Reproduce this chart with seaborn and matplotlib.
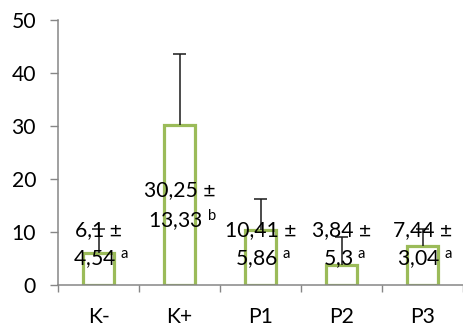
import matplotlib
matplotlib.use("Agg")
import matplotlib.pyplot as plt
import seaborn as sns
import pandas as pd
import numpy as np

categories = ["K-", "K+", "P1", "P2", "P3"]
means = [6.1, 30.25, 10.41, 3.84, 7.44]
sds = [4.54, 13.33, 5.86, 5.3, 3.04]
mean_labels = ["6,1", "30,25", "10,41", "3,84", "7,44"]
sd_labels = ["4,54", "13,33", "5,86", "5,3", "3,04"]
letters = ["a", "b", "a", "a", "a"]
yticks = [0, 10, 20, 30, 40, 50]

# label block centre heights (data units)
label_y = [7.6, 15.1, 7.6, 7.6, 7.6]

sns.set_theme(style="white")
plt.rcParams["font.family"] = ["Lato", "DejaVu Sans"]
plt.rcParams["mathtext.fontset"] = "custom"
plt.rcParams["mathtext.rm"] = "Lato"
plt.rcParams["mathtext.it"] = "Lato:italic"

FS = 15.2
GREEN = "#9BBB59"
GRAY = "#868686"

fig = plt.figure(figsize=(4.63, 3.26), dpi=100)
ax = fig.add_axes([58 / 463, 41 / 326, 405 / 463, 265 / 326])

df = pd.DataFrame({"cat": categories, "val": means})
sns.barplot(data=df, x="cat", y="val", order=categories, ax=ax, width=0.385,
            color="white", edgecolor=GREEN, linewidth=2.3, errorbar=None,
            saturation=1)
for p in ax.patches:
    p.set_facecolor("white")
    p.set_edgecolor(GREEN)
    p.set_linewidth(2.3)
    p.set_joinstyle("miter")

xs = np.arange(len(categories))
tops = np.array(means) + np.array(sds)
ax.vlines(xs, means, tops, colors="#1a1a1a", linewidth=1.1, zorder=3)
ax.hlines(tops, xs - 0.075, xs + 0.075, colors="#1a1a1a", linewidth=1.1, zorder=3)

for i in range(len(categories)):
    ax.annotate(f"{mean_labels[i]} \u00b1", (xs[i], label_y[i]), xytext=(0, 10.8),
                textcoords="offset points", ha="center", va="center",
                fontsize=FS, color="black", zorder=5)
    ax.annotate(f"{sd_labels[i]} $^{{\\mathrm{{{letters[i]}}}}}$", (xs[i], label_y[i]),
                xytext=(2, -10.8), textcoords="offset points", ha="center",
                va="center", fontsize=FS, color="black", zorder=5)

ax.set_xlim(-0.5, 4.5)
ax.set_ylim(0, 50)
ax.set_yticks(yticks)
ax.set_yticklabels([str(t) for t in yticks])
ax.set_xticks(xs)
ax.set_xticklabels(categories)
ax.set_xticks(np.arange(-0.5, 5, 1), minor=True)
ax.set_xlabel("")
ax.set_ylabel("")

ax.tick_params(axis="y", which="major", length=5.8, width=1, color=GRAY,
               labelsize=FS, pad=10, left=True, labelcolor="black")
ax.tick_params(axis="x", which="major", length=0, labelsize=FS, pad=16,
               labelcolor="black")
ax.tick_params(axis="x", which="minor", length=5, width=1, color=GRAY,
               bottom=True)

for s in ["top", "right"]:
    ax.spines[s].set_visible(False)
for s in ["left", "bottom"]:
    ax.spines[s].set_color(GRAY)
    ax.spines[s].set_linewidth(1.1)
ax.grid(False)
ax.set_facecolor("white")
fig.patch.set_facecolor("white")

fig.savefig("out.png", dpi=100)
